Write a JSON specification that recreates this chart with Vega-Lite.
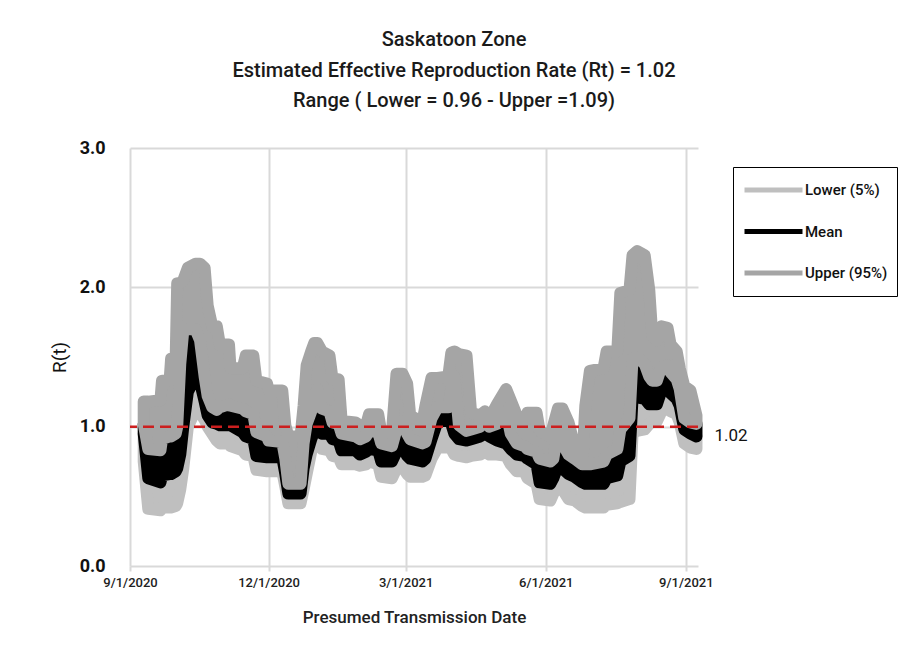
{
  "$schema": "https://vega.github.io/schema/vega-lite/v6.json",
  "width": 568,
  "height": 418,
  "autosize": "none",
  "padding": {"left": 130, "top": 148, "right": 205, "bottom": 91},
  "background": "white",
  "title": {
    "text": ["Saskatoon Zone", "Estimated Effective Reproduction Rate (Rt) = 1.02", "Range ( Lower = 0.96 - Upper =1.09)"],
    "anchor": "middle",
    "dx": 40,
    "fontSize": 20,
    "lineHeight": 30.5,
    "fontWeight": 500,
    "font": "Roboto",
    "color": "#1a1a1a",
    "offset": 28
  },
  "datasets": {
    "rt": [
      {"date": "2020-09-10", "upper_max": 1.18, "mean_max": 1.02, "lower_max": 0.95, "lower_min": 0.75},
      {"date": "2020-09-13", "upper_max": 1.18, "mean_max": 0.84, "lower_max": 0.63, "lower_min": 0.41},
      {"date": "2020-09-21", "upper_max": 1.19, "mean_max": 0.83, "lower_max": 0.60, "lower_min": 0.40},
      {"date": "2020-09-22", "upper_max": 1.33, "mean_max": 0.91, "lower_max": 0.65, "lower_min": 0.42},
      {"date": "2020-09-27", "upper_max": 1.33, "mean_max": 0.93, "lower_max": 0.66, "lower_min": 0.42},
      {"date": "2020-09-28", "upper_max": 1.49, "mean_max": 0.93, "lower_max": 0.66, "lower_min": 0.42},
      {"date": "2020-10-01", "upper_max": 1.49, "mean_max": 0.95, "lower_max": 0.68, "lower_min": 0.43},
      {"date": "2020-10-02", "upper_max": 2.03, "mean_max": 1.00, "lower_max": 0.70, "lower_min": 0.45},
      {"date": "2020-10-04", "upper_max": 2.03, "mean_max": 1.45, "lower_max": 0.80, "lower_min": 0.55},
      {"date": "2020-10-06", "upper_max": 2.05, "mean_max": 1.69, "lower_max": 1.00, "lower_min": 0.70},
      {"date": "2020-10-09", "upper_max": 2.14, "mean_max": 1.70, "lower_max": 1.25, "lower_min": 1.00},
      {"date": "2020-10-14", "upper_max": 2.17, "mean_max": 1.70, "lower_max": 1.36, "lower_min": 1.12},
      {"date": "2020-10-17", "upper_max": 2.17, "mean_max": 1.62, "lower_max": 1.32, "lower_min": 1.10},
      {"date": "2020-10-20", "upper_max": 2.14, "mean_max": 1.36, "lower_max": 1.18, "lower_min": 1.05},
      {"date": "2020-10-22", "upper_max": 1.87, "mean_max": 1.22, "lower_max": 1.08, "lower_min": 1.00},
      {"date": "2020-10-25", "upper_max": 1.72, "mean_max": 1.14, "lower_max": 1.03, "lower_min": 0.95},
      {"date": "2020-10-28", "upper_max": 1.72, "mean_max": 1.12, "lower_max": 1.02, "lower_min": 0.90},
      {"date": "2020-10-30", "upper_max": 1.59, "mean_max": 1.14, "lower_max": 1.01, "lower_min": 0.88},
      {"date": "2020-11-05", "upper_max": 1.59, "mean_max": 1.16, "lower_max": 1.01, "lower_min": 0.88},
      {"date": "2020-11-06", "upper_max": 1.42, "mean_max": 1.15, "lower_max": 1.01, "lower_min": 0.86},
      {"date": "2020-11-14", "upper_max": 1.42, "mean_max": 1.13, "lower_max": 0.96, "lower_min": 0.83},
      {"date": "2020-11-16", "upper_max": 1.51, "mean_max": 1.11, "lower_max": 0.93, "lower_min": 0.80},
      {"date": "2020-11-21", "upper_max": 1.51, "mean_max": 1.09, "lower_max": 0.91, "lower_min": 0.79},
      {"date": "2020-11-23", "upper_max": 1.33, "mean_max": 0.96, "lower_max": 0.79, "lower_min": 0.69},
      {"date": "2020-11-30", "upper_max": 1.31, "mean_max": 0.93, "lower_max": 0.78, "lower_min": 0.68},
      {"date": "2020-12-01", "upper_max": 1.26, "mean_max": 0.90, "lower_max": 0.78, "lower_min": 0.68},
      {"date": "2020-12-10", "upper_max": 1.26, "mean_max": 0.89, "lower_max": 0.78, "lower_min": 0.68},
      {"date": "2020-12-12", "upper_max": 1.01, "mean_max": 0.77, "lower_max": 0.66, "lower_min": 0.57},
      {"date": "2020-12-14", "upper_max": 0.93, "mean_max": 0.59, "lower_max": 0.52, "lower_min": 0.45},
      {"date": "2020-12-22", "upper_max": 0.93, "mean_max": 0.59, "lower_max": 0.52, "lower_min": 0.45},
      {"date": "2020-12-24", "upper_max": 1.15, "mean_max": 0.88, "lower_max": 0.70, "lower_min": 0.55},
      {"date": "2020-12-26", "upper_max": 1.44, "mean_max": 1.02, "lower_max": 0.80, "lower_min": 0.66},
      {"date": "2020-12-29", "upper_max": 1.54, "mean_max": 1.11, "lower_max": 0.91, "lower_min": 0.82},
      {"date": "2020-12-31", "upper_max": 1.60, "mean_max": 1.20, "lower_max": 0.97, "lower_min": 0.88},
      {"date": "2021-01-02", "upper_max": 1.60, "mean_max": 1.27, "lower_max": 0.97, "lower_min": 0.88},
      {"date": "2021-01-05", "upper_max": 1.54, "mean_max": 1.13, "lower_max": 0.95, "lower_min": 0.84},
      {"date": "2021-01-10", "upper_max": 1.51, "mean_max": 1.11, "lower_max": 0.95, "lower_min": 0.83},
      {"date": "2021-01-12", "upper_max": 1.34, "mean_max": 1.03, "lower_max": 0.91, "lower_min": 0.79},
      {"date": "2021-01-16", "upper_max": 1.34, "mean_max": 1.02, "lower_max": 0.90, "lower_min": 0.78},
      {"date": "2021-01-18", "upper_max": 1.04, "mean_max": 0.95, "lower_max": 0.83, "lower_min": 0.73},
      {"date": "2021-01-27", "upper_max": 1.03, "mean_max": 0.93, "lower_max": 0.83, "lower_min": 0.73},
      {"date": "2021-01-30", "upper_max": 1.01, "mean_max": 0.91, "lower_max": 0.80, "lower_min": 0.72},
      {"date": "2021-02-03", "upper_max": 1.01, "mean_max": 0.93, "lower_max": 0.82, "lower_min": 0.73},
      {"date": "2021-02-05", "upper_max": 1.09, "mean_max": 0.97, "lower_max": 0.84, "lower_min": 0.75},
      {"date": "2021-02-11", "upper_max": 1.09, "mean_max": 0.96, "lower_max": 0.83, "lower_min": 0.73},
      {"date": "2021-02-13", "upper_max": 0.96, "mean_max": 0.88, "lower_max": 0.75, "lower_min": 0.64},
      {"date": "2021-02-20", "upper_max": 0.96, "mean_max": 0.86, "lower_max": 0.75, "lower_min": 0.63},
      {"date": "2021-02-23", "upper_max": 1.38, "mean_max": 0.98, "lower_max": 0.82, "lower_min": 0.70},
      {"date": "2021-02-27", "upper_max": 1.38, "mean_max": 1.04, "lower_max": 0.85, "lower_min": 0.71},
      {"date": "2021-03-02", "upper_max": 1.31, "mean_max": 0.95, "lower_max": 0.79, "lower_min": 0.66},
      {"date": "2021-03-04", "upper_max": 1.08, "mean_max": 0.91, "lower_max": 0.77, "lower_min": 0.64},
      {"date": "2021-03-12", "upper_max": 1.03, "mean_max": 0.88, "lower_max": 0.75, "lower_min": 0.64},
      {"date": "2021-03-14", "upper_max": 1.15, "mean_max": 0.89, "lower_max": 0.77, "lower_min": 0.65},
      {"date": "2021-03-18", "upper_max": 1.35, "mean_max": 1.06, "lower_max": 0.91, "lower_min": 0.77},
      {"date": "2021-03-22", "upper_max": 1.35, "mean_max": 1.14, "lower_max": 1.04, "lower_min": 0.85},
      {"date": "2021-03-29", "upper_max": 1.36, "mean_max": 1.14, "lower_max": 1.04, "lower_min": 0.85},
      {"date": "2021-03-31", "upper_max": 1.53, "mean_max": 1.27, "lower_max": 1.02, "lower_min": 0.84},
      {"date": "2021-04-02", "upper_max": 1.54, "mean_max": 1.36, "lower_max": 0.95, "lower_min": 0.80},
      {"date": "2021-04-05", "upper_max": 1.52, "mean_max": 1.01, "lower_max": 0.91, "lower_min": 0.79},
      {"date": "2021-04-10", "upper_max": 1.51, "mean_max": 0.97, "lower_max": 0.90, "lower_min": 0.78},
      {"date": "2021-04-13", "upper_max": 1.10, "mean_max": 0.98, "lower_max": 0.91, "lower_min": 0.79},
      {"date": "2021-04-19", "upper_max": 1.08, "mean_max": 1.00, "lower_max": 0.93, "lower_min": 0.80},
      {"date": "2021-04-22", "upper_max": 1.11, "mean_max": 1.06, "lower_max": 0.95, "lower_min": 0.82},
      {"date": "2021-04-25", "upper_max": 1.06, "mean_max": 1.00, "lower_max": 0.93, "lower_min": 0.80},
      {"date": "2021-04-30", "upper_max": 1.16, "mean_max": 1.02, "lower_max": 0.90, "lower_min": 0.80},
      {"date": "2021-05-06", "upper_max": 1.27, "mean_max": 1.11, "lower_max": 0.88, "lower_min": 0.79},
      {"date": "2021-05-09", "upper_max": 1.19, "mean_max": 0.95, "lower_max": 0.84, "lower_min": 0.73},
      {"date": "2021-05-13", "upper_max": 1.08, "mean_max": 0.88, "lower_max": 0.80, "lower_min": 0.68},
      {"date": "2021-05-18", "upper_max": 1.03, "mean_max": 0.86, "lower_max": 0.79, "lower_min": 0.68},
      {"date": "2021-05-20", "upper_max": 1.10, "mean_max": 0.84, "lower_max": 0.77, "lower_min": 0.63},
      {"date": "2021-05-26", "upper_max": 1.10, "mean_max": 0.82, "lower_max": 0.73, "lower_min": 0.59},
      {"date": "2021-05-28", "upper_max": 0.97, "mean_max": 0.77, "lower_max": 0.60, "lower_min": 0.48},
      {"date": "2021-06-04", "upper_max": 0.93, "mean_max": 0.75, "lower_max": 0.59, "lower_min": 0.47},
      {"date": "2021-06-06", "upper_max": 1.01, "mean_max": 0.77, "lower_max": 0.63, "lower_min": 0.52},
      {"date": "2021-06-09", "upper_max": 1.13, "mean_max": 0.98, "lower_max": 0.72, "lower_min": 0.57},
      {"date": "2021-06-12", "upper_max": 1.13, "mean_max": 0.88, "lower_max": 0.70, "lower_min": 0.55},
      {"date": "2021-06-16", "upper_max": 1.03, "mean_max": 0.80, "lower_max": 0.66, "lower_min": 0.48},
      {"date": "2021-06-20", "upper_max": 0.86, "mean_max": 0.77, "lower_max": 0.64, "lower_min": 0.47},
      {"date": "2021-06-25", "upper_max": 0.73, "mean_max": 0.73, "lower_max": 0.60, "lower_min": 0.43},
      {"date": "2021-06-27", "upper_max": 1.15, "mean_max": 0.73, "lower_max": 0.59, "lower_min": 0.42},
      {"date": "2021-06-30", "upper_max": 1.40, "mean_max": 0.73, "lower_max": 0.59, "lower_min": 0.42},
      {"date": "2021-07-09", "upper_max": 1.42, "mean_max": 0.75, "lower_max": 0.59, "lower_min": 0.42},
      {"date": "2021-07-11", "upper_max": 1.54, "mean_max": 0.80, "lower_max": 0.63, "lower_min": 0.44},
      {"date": "2021-07-18", "upper_max": 1.54, "mean_max": 0.84, "lower_max": 0.65, "lower_min": 0.45},
      {"date": "2021-07-20", "upper_max": 1.96, "mean_max": 0.98, "lower_max": 0.75, "lower_min": 0.46},
      {"date": "2021-07-26", "upper_max": 1.98, "mean_max": 1.06, "lower_max": 0.79, "lower_min": 0.48},
      {"date": "2021-07-28", "upper_max": 2.23, "mean_max": 1.49, "lower_max": 1.20, "lower_min": 0.95},
      {"date": "2021-07-31", "upper_max": 2.26, "mean_max": 1.50, "lower_max": 1.21, "lower_min": 0.97},
      {"date": "2021-08-05", "upper_max": 2.23, "mean_max": 1.45, "lower_max": 1.20, "lower_min": 0.98},
      {"date": "2021-08-08", "upper_max": 1.98, "mean_max": 1.36, "lower_max": 1.16, "lower_min": 1.02},
      {"date": "2021-08-10", "upper_max": 1.65, "mean_max": 1.33, "lower_max": 1.16, "lower_min": 1.04},
      {"date": "2021-08-13", "upper_max": 1.62, "mean_max": 1.33, "lower_max": 1.16, "lower_min": 1.04},
      {"date": "2021-08-16", "upper_max": 1.72, "mean_max": 1.43, "lower_max": 1.26, "lower_min": 1.11},
      {"date": "2021-08-20", "upper_max": 1.71, "mean_max": 1.44, "lower_max": 1.27, "lower_min": 1.13},
      {"date": "2021-08-22", "upper_max": 1.59, "mean_max": 1.39, "lower_max": 1.24, "lower_min": 1.11},
      {"date": "2021-08-26", "upper_max": 1.54, "mean_max": 1.34, "lower_max": 1.20, "lower_min": 1.09},
      {"date": "2021-08-28", "upper_max": 1.42, "mean_max": 1.27, "lower_max": 1.15, "lower_min": 1.03},
      {"date": "2021-08-31", "upper_max": 1.29, "mean_max": 1.06, "lower_max": 0.98, "lower_min": 0.88},
      {"date": "2021-09-04", "upper_max": 1.26, "mean_max": 1.03, "lower_max": 0.95, "lower_min": 0.85},
      {"date": "2021-09-08", "upper_max": 1.08, "mean_max": 1.02, "lower_max": 0.93, "lower_min": 0.84}
    ]
  },
  "layer": [
    {
      "data": {"name": "rt"},
      "mark": {"type": "area", "filled": false, "fill": "#BFBFBF", "strokeWidth": 12, "strokeJoin": "round", "strokeCap": "round"},
      "encoding": {
        "x": {
          "field": "date", "type": "temporal",
          "scale": {"type": "utc", "domain": [{"year": 2020, "month": 9, "date": 1, "utc": true}, {"year": 2021, "month": 9, "date": 9, "utc": true}]},
          "axis": {
            "title": "Presumed Transmission Date",
            "values": [
              {"year": 2020, "month": 9, "date": 1, "utc": true},
              {"year": 2020, "month": 12, "date": 1, "utc": true},
              {"year": 2021, "month": 3, "date": 1, "utc": true},
              {"year": 2021, "month": 6, "date": 1, "utc": true},
              {"year": 2021, "month": 9, "date": 1, "utc": true}
            ],
            "format": "%-m/%-d/%Y",
            "labelFont": "Roboto", "labelFontSize": 13, "labelFontWeight": 500, "labelColor": "#222",
            "labelFlush": false, "labelOverlap": false,
            "grid": true, "gridColor": "#D9D9D9", "gridWidth": 2,
            "domain": false, "tickColor": "#D9D9D9", "tickWidth": 2, "tickSize": 5,
            "labelPadding": 5,
            "titleFont": "Roboto", "titleFontSize": 17, "titleFontWeight": 500, "titleColor": "#222", "titlePadding": 20
          }
        },
        "y": {
          "field": "lower_max", "type": "quantitative",
          "scale": {"domain": [0, 3], "nice": false},
          "axis": {
            "title": "R(t)", "values": [0, 1, 2, 3], "format": ".1f",
            "labelFont": "Roboto", "labelFontSize": 18, "labelFontWeight": "bold", "labelColor": "#111", "labelPadding": 25,
            "ticks": false, "grid": true, "gridColor": "#D9D9D9", "gridWidth": 2, "domain": false,
            "titleFont": "Roboto", "titleFontSize": 19, "titleFontWeight": "normal", "titleColor": "#111", "titlePadding": 10
          }
        },
        "y2": {"field": "lower_min"},
        "color": {
          "datum": "Lower (5%)",
          "scale": {"domain": ["Lower (5%)", "Mean", "Upper (95%)"], "range": ["#BFBFBF", "#000000", "#A5A5A5"]},
          "legend": {
            "title": null,
            "orient": "none", "legendX": 603, "legendY": 19,
            "symbolType": "stroke", "symbolSize": 3364, "symbolStrokeWidth": 5,
            "clipHeight": 28, "rowPadding": 13.5, "padding": 9,
            "strokeColor": "black",
            "labelFont": "Roboto", "labelFontSize": 15, "labelFontWeight": 500, "labelColor": "#111", "labelOffset": 0,
            "encode": {
              "symbols": {"update": {"strokeWidth": {"value": 5}, "strokeCap": {"value": "round"}, "fill": {"value": "transparent"}}},
              "legend": {"update": {"strokeWidth": {"value": 2}}}
            }
          }
        }
      }
    },
    {
      "data": {"name": "rt"},
      "mark": {"type": "area", "filled": false, "fill": "#000000", "strokeWidth": 12, "strokeJoin": "round", "strokeCap": "round"},
      "encoding": {
        "x": {"field": "date", "type": "temporal"},
        "y": {"field": "mean_max", "type": "quantitative", "title": "R(t)"},
        "y2": {"field": "lower_max"},
        "color": {"datum": "Mean"}
      }
    },
    {
      "data": {"name": "rt"},
      "mark": {"type": "area", "filled": false, "fill": "#A5A5A5", "strokeWidth": 12, "strokeJoin": "round", "strokeCap": "round"},
      "encoding": {
        "x": {"field": "date", "type": "temporal"},
        "y": {"field": "upper_max", "type": "quantitative", "title": "R(t)"},
        "y2": {"field": "mean_max"},
        "color": {"datum": "Upper (95%)"}
      }
    },
    {
      "data": {"values": [{}]},
      "mark": {"type": "rule", "color": "#CC1F1F", "strokeWidth": 2.5, "strokeDash": [11, 6]},
      "encoding": {"y": {"datum": 1}}
    },
    {
      "data": {"values": [{"date": "2021-09-08", "r": 0.93, "label": "1.02"}]},
      "mark": {"type": "text", "align": "left", "baseline": "middle", "dx": 18, "fontSize": 17, "font": "Roboto", "color": "#111"},
      "encoding": {
        "x": {"field": "date", "type": "temporal"},
        "y": {"field": "r", "type": "quantitative"},
        "text": {"field": "label"}
      }
    }
  ],
  "config": {
    "font": "Roboto",
    "view": {"stroke": null}
  }
}
